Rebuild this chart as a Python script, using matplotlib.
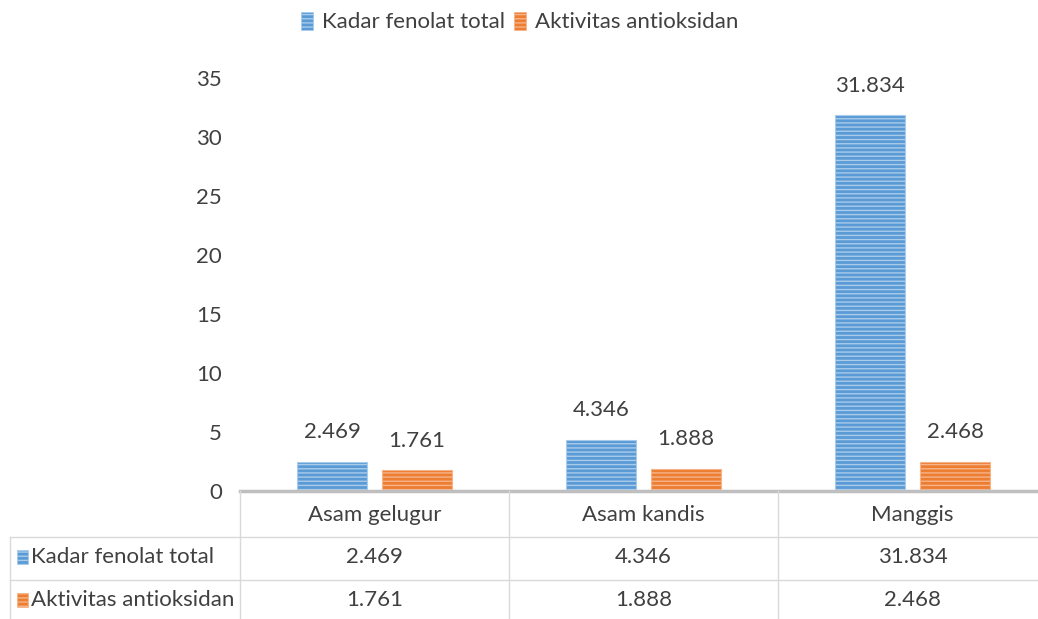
import matplotlib

matplotlib.use("Agg")
import matplotlib.pyplot as plt
from matplotlib.lines import Line2D
from matplotlib.patches import Rectangle
from matplotlib.transforms import blended_transform_factory

CATEGORIES = ["Asam gelugur", "Asam kandis", "Manggis"]
SERIES = ["Kadar fenolat total", "Aktivitas antioksidan"]
FENOLAT = [2.469, 4.346, 31.834]
ANTIOKSIDAN = [1.761, 1.888, 2.468]
Y_TICKS = [0, 5, 10, 15, 20, 25, 30, 35]

W, H = 1038, 619
BLUE, BLUE_LINE = "#5B9BD5", "#A9CBEC"
ORANGE, ORANGE_LINE = "#ED7D31", "#F6B48A"
TEXT = "#404040"
GRID = "#D9D9D9"
FONT = "Lato"
FS = 16

plt.rcParams["font.family"] = [FONT, "DejaVu Sans"]
plt.rcParams["hatch.linewidth"] = 1.0

fig = plt.figure(figsize=(W / 100, H / 100), dpi=100)
ax = fig.add_axes([240 / W, 128 / H, 807 / W, 413 / H])


def fy(py):
    return 1 - py / H


def fx(px):
    return px / W


x = list(range(len(CATEGORIES)))
width = 0.26
offset = 0.158
bars_a = ax.bar([i - offset for i in x], FENOLAT, width, color=BLUE,
                edgecolor=BLUE_LINE, hatch="----", linewidth=0.8)
bars_b = ax.bar([i + offset for i in x], ANTIOKSIDAN, width, color=ORANGE,
                edgecolor=ORANGE_LINE, hatch="----", linewidth=0.8)
for bars in (bars_a, bars_b):
    ax.bar_label(bars, labels=[f"{b.get_height():.3f}" for b in bars],
                 padding=14, fontsize=FS, color=TEXT)

ax.set_xlim(-0.5, len(CATEGORIES) - 0.5)
ax.set_ylim(0, 35)
ax.set_yticks(Y_TICKS)
ax.set_xticks([])
ax.tick_params(axis="y", length=0, pad=13, labelsize=FS, labelcolor=TEXT)
for side in ("top", "right", "left"):
    ax.spines[side].set_visible(False)
ax.spines["bottom"].set_color("#BFBFBF")
ax.spines["bottom"].set_linewidth(2.5)

# data table under the axis
tr = blended_transform_factory(ax.transData, fig.transFigure)
for b in [i - 0.5 for i in range(len(CATEGORIES) + 1)]:
    fig.add_artist(Line2D([b, b], [fy(491), 0], transform=tr, color=GRID, lw=1))
fig.add_artist(Line2D([fx(10), fx(10)], [fy(537), 0], transform=fig.transFigure,
                      color=GRID, lw=1))
for py in (537, 580):
    fig.add_artist(Line2D([fx(10), 1], [fy(py), fy(py)], transform=fig.transFigure,
                          color=GRID, lw=1))

for i, cat in enumerate(CATEGORIES):
    fig.text(i, fy(515), cat, transform=tr, ha="center", va="center",
             fontsize=FS, color=TEXT)
rows = [(SERIES[0], FENOLAT, BLUE, BLUE_LINE, 557), (SERIES[1], ANTIOKSIDAN, ORANGE, ORANGE_LINE, 600)]
for name, vals, col, line, py in rows:
    fig.add_artist(Rectangle((fx(17), fy(py + 7)), 11 / W, 14 / H, transform=fig.transFigure,
                             facecolor=col, edgecolor=line, hatch="----", lw=0.5))
    fig.text(fx(31), fy(py), name, ha="left", va="center", fontsize=FS, color=TEXT)
    for i, v in enumerate(vals):
        fig.text(i, fy(py), f"{v:.3f}", transform=tr, ha="center", va="center",
                 fontsize=FS, color=TEXT)

# legend on top
handles = [Rectangle((0, 0), 1, 1, facecolor=BLUE, edgecolor=BLUE_LINE, hatch="----", lw=0.5),
           Rectangle((0, 0), 1, 1, facecolor=ORANGE, edgecolor=ORANGE_LINE, hatch="----", lw=0.5)]
fig.legend(handles, SERIES, loc="center", bbox_to_anchor=(fx(520), fy(22)), ncol=2,
           frameon=False, fontsize=FS, labelcolor=TEXT, handlelength=0.55, handleheight=0.9,
           handletextpad=0.4, columnspacing=0.4)

fig.savefig("out.png", dpi=100, facecolor="white")
